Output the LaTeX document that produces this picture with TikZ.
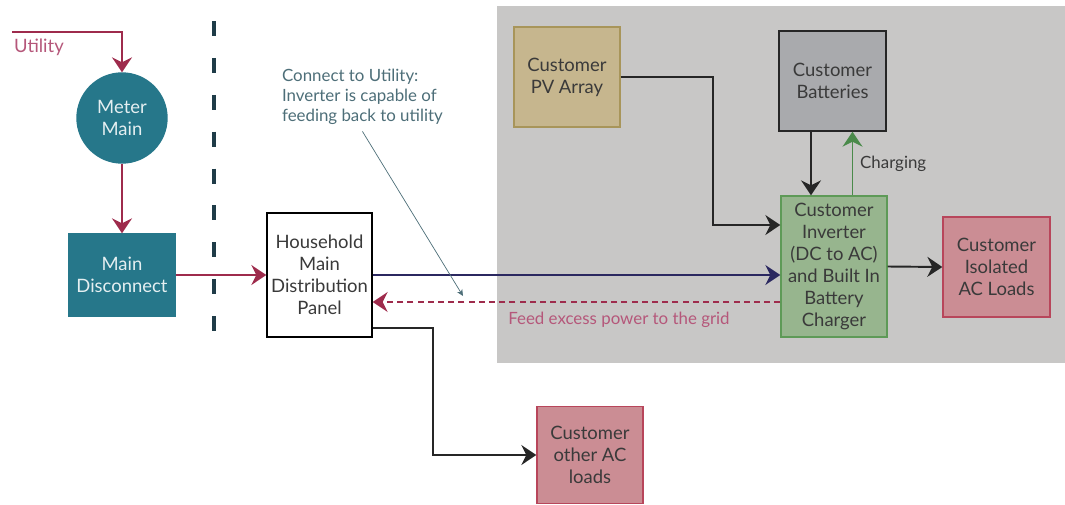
\documentclass[tikz,border=0pt]{standalone}
\usepackage{fontspec}
\setmainfont{Lato}
\usetikzlibrary{arrows.meta, positioning}
\definecolor{gridred}{HTML}{9E2B4C}
\definecolor{utilred}{HTML}{B5577A}
\definecolor{meterteal}{HTML}{26778A}
\definecolor{linenavy}{HTML}{2B2860}
\definecolor{notegray}{HTML}{4D6E78}
\definecolor{sitegray}{HTML}{C8C7C6}
\definecolor{pvtan}{HTML}{C6B68E}
\definecolor{pvedge}{HTML}{A8955A}
\definecolor{battgray}{HTML}{A9AAAD}
\definecolor{invgreen}{HTML}{97B58E}
\definecolor{invedge}{HTML}{5E9A57}
\definecolor{loadpink}{HTML}{CB8D94}
\definecolor{loadedge}{HTML}{B8465B}
\definecolor{chargegreen}{HTML}{4A8A4A}
\definecolor{fencenavy}{HTML}{1F3C48}
\definecolor{textgray}{HTML}{3A3A3A}
\tikzset{
    box/.style={rectangle, draw=black, fill=white, line width=0.8pt, align=center, text=textgray, inner sep=1pt, font=\fontsize{10.5}{12.5}\selectfont},
    tealbox/.style={box, draw=meterteal, fill=meterteal, text=white!88!meterteal},
    pvbox/.style={box, draw=pvedge, fill=pvtan},
    battbox/.style={box, draw=black!85, fill=battgray},
    invbox/.style={box, draw=invedge, fill=invgreen},
    loadbox/.style={box, draw=loadedge, fill=loadpink},
    redarrow/.style={-{Stealth[length=3mm, width=4mm, inset=1mm]}, line width=1.2pt, draw=gridred},
    navyarrow/.style={-{Stealth[length=3mm, width=4mm, inset=1mm]}, line width=0.9pt, draw=linenavy},
    feedarrow/.style={-{Stealth[length=3mm, width=4mm, inset=1mm]}, line width=1.1pt, draw=gridred, dash pattern=on 3.4pt off 2.4pt},
    blackarrow/.style={-{Stealth[length=3mm, width=4mm, inset=1mm]}, line width=1.1pt, draw=black!85},
    chargearrow/.style={-{Stealth[length=3mm, width=4mm, inset=1mm]}, line width=1.1pt, draw=chargegreen},
    notearrow/.style={-{Stealth[length=1.3mm, width=1.2mm]}, line width=0.4pt, draw=notegray},
    fence/.style={line width=1.9pt, draw=fencenavy, dash pattern=on 8.5pt off 12.5pt},
    labeltext/.style={inner sep=1pt, font=\fontsize{9.6}{11.3}\selectfont}
}

\begin{document}
\begin{tikzpicture}[x=0.02cm, y=-0.02cm]
    \useasboundingbox (0,0) rectangle (1065,504);
    \fill[sitegray] (497,6) rectangle (1065,363);
    \draw[fence] (214,21) -- (214,347);

    \node[tealbox, circle, minimum size=1.8cm] (meter) at (122,118) {Meter\\Main};
    \node[tealbox, minimum width=2.12cm, minimum height=1.64cm] (disc) at (122,275) {Main\\Disconnect};
    \node[box, minimum width=2.1cm, minimum height=2.48cm] (panel) at (319.5,275) {Household\\Main\\Distribution\\Panel};
    \node[pvbox, minimum width=2.12cm, minimum height=2cm] (pv) at (567,77) {Customer\\PV Array};
    \node[battbox, minimum width=2.14cm, minimum height=2cm] (batt) at (832.5,81) {Customer\\Batteries};
    \node[invbox, minimum width=2.12cm, minimum height=2.82cm] (inv) at (834,266.5) {Customer\\Inverter\\(DC to AC)\\and Built In\\Battery\\Charger};
    \node[loadbox, minimum width=2.14cm, minimum height=2cm] (isoload) at (996.5,267) {Customer\\Isolated\\AC Loads};
    \node[loadbox, minimum width=2.12cm, minimum height=1.94cm] (otherload) at (590,455) {Customer\\other AC\\loads};

    \coordinate (utilstart) at (12,32);
    \node[labeltext, anchor=west, text=utilred, font=\fontsize{10.5}{12.5}\selectfont] (utillabel) at (12,47) {Utility};
    \draw[redarrow] (utilstart) -| (meter.north);
    \draw[redarrow] (meter) -- (disc);
    \draw[redarrow] (disc.east) -- (panel.west);

    \draw[navyarrow] (panel.east) -- (panel.east -| inv.west);
    \coordinate (feedstart) at ([yshift=-0.71cm]inv.west);
    \draw[feedarrow] (feedstart) -- (feedstart -| panel.east);
    \node[labeltext, text=utilred] (feedlabel) at (619,320) {Feed excess power to the grid};

    \coordinate (pvin) at ([yshift=0.83cm]inv.west);
    \draw[blackarrow] (pv.east) -- ++(92,0) |- (pvin);
    \coordinate (battout) at ([xshift=-0.43cm]batt.south);
    \draw[blackarrow] (battout) -- (battout |- inv.north);
    \coordinate (chargein) at ([xshift=0.37cm]inv.north);
    \draw[chargearrow] (chargein) -- (chargein |- batt.south) node[labeltext, midway, right=0.1cm, text=textgray] (chargelabel) {Charging};
    \draw[blackarrow] (inv.east) -- (isoload.west);
    \coordinate (panelout) at ([yshift=0.2cm]panel.south east);
    \draw[blackarrow] (panelout) -- ++(60,0) |- (otherload.west);

    \node[labeltext, anchor=north west, align=left, text=notegray] (note) at (280,67) {Connect to Utility:\\Inverter is capable of\\feeding back to utility};
    \coordinate (notetip) at (463,296);
    \draw[notearrow] ([yshift=-0.1cm]note.south) -- (notetip);
\end{tikzpicture}
\end{document}
